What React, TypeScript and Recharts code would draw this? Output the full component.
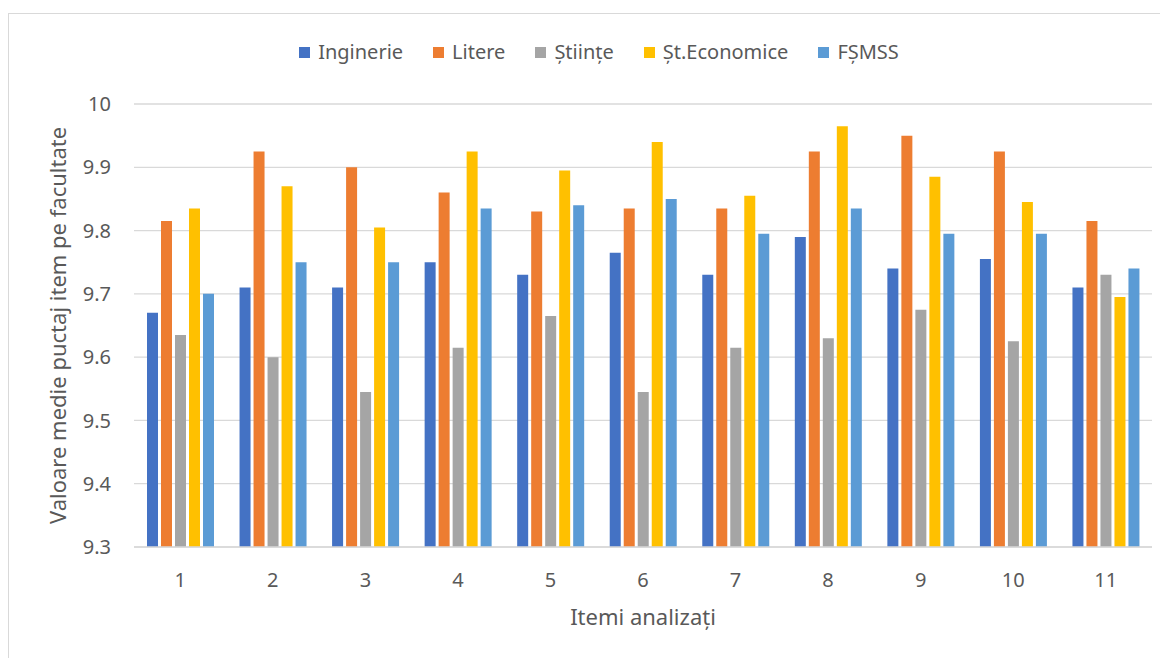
import React from "react";
import {
    BarChart,
    Bar,
    XAxis,
    YAxis,
    CartesianGrid,
    Legend,
} from "recharts";

const items = ["1", "2", "3", "4", "5", "6", "7", "8", "9", "10", "11"];
const inginerie = [9.67, 9.71, 9.71, 9.75, 9.73, 9.765, 9.73, 9.79, 9.74, 9.755, 9.71];
const litere = [9.815, 9.925, 9.9, 9.86, 9.83, 9.835, 9.835, 9.925, 9.95, 9.925, 9.815];
const stiinte = [9.635, 9.6, 9.545, 9.615, 9.665, 9.545, 9.615, 9.63, 9.675, 9.625, 9.73];
const stEconomice = [9.835, 9.87, 9.805, 9.925, 9.895, 9.94, 9.855, 9.965, 9.885, 9.845, 9.695];
const fsmss = [9.7, 9.75, 9.75, 9.835, 9.84, 9.85, 9.795, 9.835, 9.795, 9.795, 9.74];
const yTicks = [9.3, 9.4, 9.5, 9.6, 9.7, 9.8, 9.9, 10];

const series = [
    { key: "Inginerie", values: inginerie, color: "#4472C4" },
    { key: "Litere", values: litere, color: "#ED7D31" },
    { key: "Științe", values: stiinte, color: "#A5A5A5" },
    { key: "Șt.Economice", values: stEconomice, color: "#FFC000" },
    { key: "FȘMSS", values: fsmss, color: "#5B9BD5" },
];

const data = items.map((item, i) => {
    const row: Record<string, string | number> = { item };
    series.forEach((s) => {
        row[s.key] = s.values[i];
    });
    return row;
});

const FONT = "'Noto Sans', sans-serif";
const TEXT = "#595959";

function LegendContent() {
    return (
        <div
            style={{
                display: "flex",
                justifyContent: "center",
                gap: 30,
                paddingLeft: 20,
                fontFamily: FONT,
                fontSize: 20,
                lineHeight: "24px",
                color: TEXT,
            }}
        >
            {series.map((s) => (
                <div key={s.key} style={{ display: "flex", alignItems: "center" }}>
                    <span
                        style={{
                            width: 11,
                            height: 11,
                            background: s.color,
                            display: "inline-block",
                            marginRight: 8,
                        }}
                    />
                    {s.key}
                </div>
            ))}
        </div>
    );
}

export default function App() {
    return (
        <div
            style={{
                marginTop: 5,
                width: 1170,
                height: 660,
                borderLeft: "1px solid #d9d9d9",
                borderTop: "1px solid #d9d9d9",
                background: "#fff",
            }}
        >
            <BarChart
                width={1160}
                height={640}
                data={data}
                margin={{ top: 66, right: 17, bottom: 27, left: 0 }}
                barSize={11}
                barGap={3}
            >
                <CartesianGrid vertical={false} stroke="#d9d9d9" strokeWidth={1.3} />
                <XAxis
                    dataKey="item"
                    height={80}
                    axisLine={{ stroke: "#d9d9d9", strokeWidth: 1.3 }}
                    tickLine={false}
                    tickSize={0}
                    tickMargin={26}
                    tick={{ fontSize: 20, fill: TEXT, fontFamily: FONT }}
                    label={{
                        value: "Itemi analizați",
                        position: "center",
                        dy: 30,
                        fontSize: 22,
                        fill: TEXT,
                        fontFamily: FONT,
                    }}
                />
                <YAxis
                    width={125}
                    domain={[9.3, 10]}
                    ticks={yTicks}
                    allowDataOverflow
                    axisLine={false}
                    tickLine={false}
                    tickSize={0}
                    tickMargin={23}
                    tickFormatter={(v: number) => (v === 10 ? "10" : v.toFixed(1))}
                    tick={{ fontSize: 20, fill: TEXT, fontFamily: FONT }}
                    label={{
                        value: "Valoare medie puctaj item pe facultate",
                        angle: -90,
                        position: "center",
                        dx: -13,
                        fontSize: 22,
                        fill: TEXT,
                        fontFamily: FONT,
                    }}
                />
                <Legend
                    verticalAlign="top"
                    content={<LegendContent />}
                    wrapperStyle={{ top: 26, left: 0, width: 1160 }}
                />
                {series.map((s) => (
                    <Bar
                        key={s.key}
                        dataKey={s.key}
                        fill={s.color}
                        isAnimationActive={false}
                    />
                ))}
            </BarChart>
        </div>
    );
}
